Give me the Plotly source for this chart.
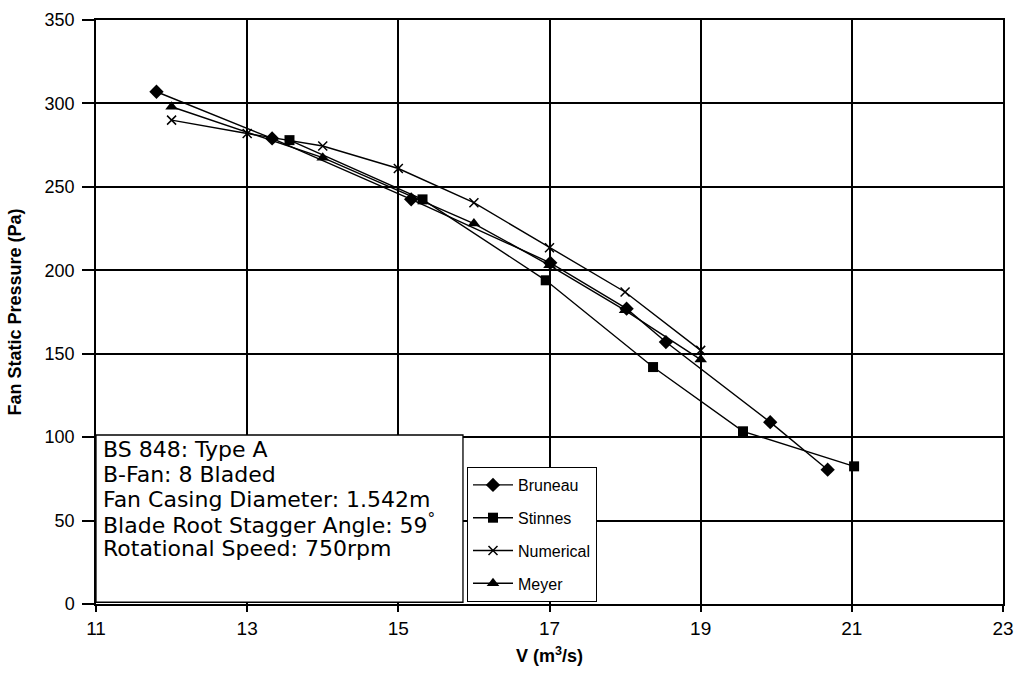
import plotly.graph_objects as go

# ---- data ----
bruneau_x = [11.8, 13.33, 15.17, 17.01, 18.02, 18.54, 19.92, 20.68]
bruneau_y = [307, 279, 242.5, 204.5, 177, 157, 109, 80.5]

stinnes_x = [13.56, 15.32, 16.95, 18.37, 19.56, 21.03]
stinnes_y = [278, 242.5, 194, 142, 103.5, 82.5]

numerical_x = [12, 13, 14, 15, 16, 17, 18, 19]
numerical_y = [290, 282, 274.5, 261, 240.5, 213.5, 187, 152]

meyer_x = [12, 14, 16, 17, 18, 19]
meyer_y = [298, 267.5, 228, 203, 176, 146.5]

x_ticks = [11, 13, 15, 17, 19, 21, 23]
y_ticks = [0, 50, 100, 150, 200, 250, 300, 350]

info_lines = [
    "BS 848: Type A",
    "B-Fan: 8 Bladed",
    "Fan Casing Diameter: 1.542m",
    "Blade Root Stagger Angle: 59<sup>°</sup>",
    "Rotational Speed: 750rpm",
]

NARROW = "Liberation Sans Narrow, Arial Narrow, Liberation Sans, Arial, sans-serif"
SANS = "Liberation Sans, Arial, sans-serif"

fig = go.Figure()

series = [
    ("Bruneau", bruneau_x, bruneau_y, "diamond", 11),
    ("Stinnes", stinnes_x, stinnes_y, "square", 10),
    ("Numerical", numerical_x, numerical_y, "x-thin", 9),
    ("Meyer", meyer_x, meyer_y, "triangle-up", 11),
]
for name, xs, ys, sym, size in series:
    marker = dict(symbol=sym, size=size, color="black",
                  line=dict(color="black", width=1.5 if sym == "x-thin" else 0))
    fig.add_trace(go.Scatter(
        x=xs, y=ys, name=name, legendgroup=name, mode="lines+markers",
        line=dict(color="black", width=1.4), marker=marker,
    ))

# info box
fig.add_shape(type="rect", xref="paper", yref="paper",
              x0=0, x1=0.4046, y0=0.003, y1=0.2894,
              line=dict(color="black", width=1.3), fillcolor="white", layer="above")

plot_top, plot_h, plot_w = 20, 584, 907
for i, txt in enumerate(info_lines):
    yc = 450 + i * 24.5
    fig.add_annotation(xref="paper", yref="paper", x=5 / plot_w, y=(plot_top + plot_h - yc) / plot_h,
                       xanchor="left", yanchor="middle", showarrow=False, align="left",
                       text=txt, font=dict(family="DejaVu Sans, Verdana, sans-serif", size=22, color="black"))

fig.update_layout(
    width=1017, height=681,
    margin=dict(l=96, r=14, t=20, b=77, autoexpand=False),
    paper_bgcolor="white", plot_bgcolor="white",
    showlegend=True,
    legend=dict(x=(467 - 96) / plot_w, y=(604 - 467) / plot_h, xanchor="left", yanchor="top",
                bgcolor="white", bordercolor="black", borderwidth=1,
                font=dict(family=NARROW, size=16, color="black"),
                tracegroupgap=9, itemwidth=40),
    xaxis=dict(range=[11, 23], tickvals=x_ticks, ticktext=[str(v) for v in x_ticks],
               automargin=False,
               showgrid=True, gridcolor="black", gridwidth=1.5,
               showline=True, linecolor="black", linewidth=1.5, mirror=True,
               ticks="outside", ticklen=6, tickcolor="black", tickwidth=1.5,
               tickfont=dict(family=NARROW, size=19, color="black"),
               zeroline=False,
               title=dict(text="<b>V (m<sup>3</sup>/s)</b>", standoff=12,
                          font=dict(family=NARROW, size=18, color="black"))),
    yaxis=dict(range=[0, 350], tickvals=y_ticks, automargin=False,
               showgrid=True, gridcolor="black", gridwidth=1.5,
               showline=True, linecolor="black", linewidth=1.5, mirror=True,
               ticks="outside", ticklen=12, tickcolor="black", tickwidth=1.5,
               ticklabelstandoff=4,
               tickfont=dict(family=SANS, size=18, color="black"),
               zeroline=False,
               title=dict(text="<b>Fan Static Pressure (Pa)</b>", standoff=18,
                          font=dict(family=NARROW, size=18, color="black"))),
)

fig.write_html("out.html")
